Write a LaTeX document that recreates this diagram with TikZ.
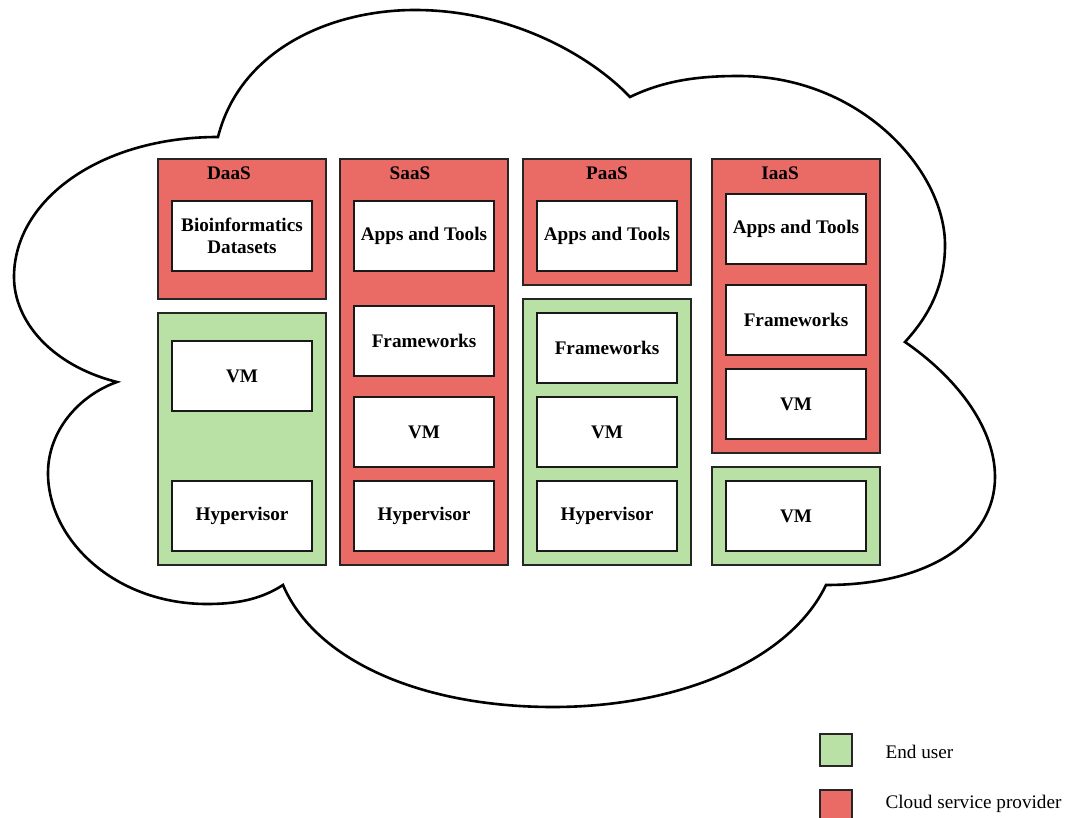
\documentclass[tikz,border=0pt]{standalone}
\usepackage{fontspec}
\setmainfont{Liberation Serif}
\usepackage{xcolor}
\usepackage{tikz}
\usetikzlibrary{positioning}
\definecolor{csp}{HTML}{EA6B66}
\definecolor{enduser}{HTML}{B9E0A5}

\begin{document}
\begin{tikzpicture}[ %图的属性
        x=1pt, y=-1pt, % 一个单位 = 一个像素, y 向下
        font=\fontsize{19.2}{22}\selectfont, % 字体大小
        layer/.style={draw=black!85, line width=1.4pt, inner sep=0pt, minimum width=168pt}, % 外层色块
        comp/.style={draw=black!90, fill=white, line width=1.4pt, inner sep=0pt, align=center,
                     minimum width=140pt, minimum height=70pt, font=\fontsize{19.2}{22}\selectfont\bfseries}, % 白色组件
        title/.style={font=\fontsize{19.2}{22}\selectfont\bfseries}, % 标题
        key/.style={draw=black!85, line width=1.4pt, minimum width=32pt, minimum height=32pt, inner sep=0pt} % 图例方块
      ]
      \useasboundingbox (0,0) rectangle (1071,818);
      %% cloud
      \draw[line width=2.6pt, fill=white]
        (218,137) .. controls (240,50) and (330,10) .. (415,10)
        .. controls (510,10) and (590,55) .. (630,97)
        .. controls (665,80) and (700,76) .. (739,76)
        .. controls (860,76) and (945,170) .. (945,245)
        .. controls (945,290) and (925,320) .. (905,342)
        .. controls (960,380) and (995,430) .. (995,477)
        .. controls (995,540) and (930,585) .. (826,585)
        .. controls (790,660) and (680,707) .. (553,707)
        .. controls (420,707) and (315,660) .. (283,585)
        .. controls (260,600) and (235,604) .. (207,604)
        .. controls (115,604) and (48,540) .. (48,473)
        .. controls (48,430) and (80,395) .. (117,382)
        .. controls (50,365) and (14,320) .. (14,277)
        .. controls (14,200) and (100,137) .. (218,137) -- cycle;
      %% layers
      \node[layer, fill=csp, minimum height=140pt] (daasP) at (242,229) {};
      \node[layer, fill=enduser, minimum height=252pt] (daasU) at (242,439) {};
      \node[layer, fill=csp, minimum height=406pt] (saasP) at (424,362) {};
      \node[layer, fill=csp, minimum height=126pt] (paasP) at (607,222) {};
      \node[layer, fill=enduser, minimum height=266pt] (paasU) at (607,432) {};
      \node[layer, fill=csp, minimum height=294pt] (iaasP) at (796,306) {};
      \node[layer, fill=enduser, minimum height=98pt] (iaasU) at (796,516) {};
      %% titles
      \node[title] (daas) at (229,173) {DaaS};
      \node[title] (saas) at (410,173) {SaaS};
      \node[title] (paas) at (607,173) {PaaS};
      \node[title] (iaas) at (780,173) {IaaS};
      %% DaaS
      \node[comp] (daasData) at (242,236) {Bioinformatics\\Datasets};
      \node[comp] (daasVM) at (242,376) {VM};
      \node[comp] (daasHyp) at (242,516) {Hypervisor};
      %% SaaS
      \node[comp] (saasApps) at (424,236) {Apps and Tools};
      \node[comp] (saasFw) at (424,341) {Frameworks};
      \node[comp] (saasVM) at (424,432) {VM};
      \node[comp] (saasHyp) at (424,516) {Hypervisor};
      %% PaaS
      \node[comp] (paasApps) at (607,236) {Apps and Tools};
      \node[comp] (paasFw) at (607,348) {Frameworks};
      \node[comp] (paasVM) at (607,432) {VM};
      \node[comp] (paasHyp) at (607,516) {Hypervisor};
      %% IaaS
      \node[comp] (iaasApps) at (796,229) {Apps and Tools};
      \node[comp] (iaasFw) at (796,320) {Frameworks};
      \node[comp] (iaasVM) at (796,404) {VM};
      \node[comp] (iaasVMu) at (796,516) {VM};
      %% legend
      \node[key, fill=enduser] (keyU) at (836,750) {};
      \node[key, fill=csp] (keyP) at (836,806) {};
      \node[anchor=west] (keyUText) at (882,752) {End user};
      \node[anchor=west] (keyPText) at (882,804) {Cloud service provider};
\end{tikzpicture}
\end{document}
